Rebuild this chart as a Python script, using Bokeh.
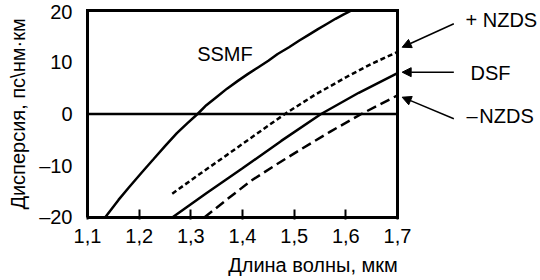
from bokeh.plotting import figure
from bokeh.models import Arrow, NormalHead, Label, FixedTicker, Range1d
from bokeh.embed import file_html
from bokeh.resources import INLINE

# ---- data ----
ssmf_lam = [1.134, 1.16, 1.18, 1.205, 1.228, 1.25, 1.273, 1.293, 1.313, 1.33, 1.35, 1.37, 1.391,
            1.41, 1.43, 1.45, 1.468, 1.49, 1.51, 1.528, 1.546, 1.563, 1.58, 1.595, 1.611]
ssmf_d = [-20.0, -16.6, -14.2, -11.3, -8.7, -6.2, -3.7, -1.8, 0.0, 1.7, 3.3, 4.9, 6.4,
          7.7, 9.0, 10.3, 11.6, 12.9, 14.2, 15.3, 16.4, 17.4, 18.4, 19.2, 20.0]

pnzds_lam = [1.264, 1.32, 1.37, 1.425, 1.482, 1.54, 1.604, 1.65, 1.70]
pnzds_d = [-15.4, -11.4, -7.9, -4.0, 0.0, 3.7, 7.3, 9.7, 12.0]

dsf_lam = [1.264, 1.33, 1.40, 1.475, 1.552, 1.625, 1.70]
dsf_d = [-20.0, -15.3, -10.5, -5.2, 0.0, 4.1, 7.9]

mnzds_lam = [1.326, 1.37, 1.4165, 1.465, 1.51, 1.57, 1.63, 1.70]
mnzds_d = [-20.0, -16.5, -12.9, -9.8, -7.0, -3.4, 0.0, 3.6]

x_ticks = [1.1, 1.2, 1.3, 1.4, 1.5, 1.6, 1.7]
x_tick_labels = ["1,1", "1,2", "1,3", "1,4", "1,5", "1,6", "1,7"]
y_ticks = [-20, -10, 0, 10, 20]
y_tick_labels = ["\u201320", "\u201310", "0", "10", "20"]

x_title = "Длина волны, мкм"
y_title = "Дисперсия, пс\\нм·км"

FONT = "Liberation Sans"

# small padding around the box so its border is not cut by the plot frame
p = figure(width=540, height=280, output_backend="svg", toolbar_location=None,
           x_range=Range1d(1.09613, 1.97672), y_range=Range1d(-20.3865, 20.3865),
           min_border_left=85, min_border_right=0, min_border_top=8, min_border_bottom=61)
p.xgrid.visible = False
p.ygrid.visible = False
p.outline_line_color = None
p.background_fill_color = "white"
p.border_fill_color = "white"

# axes
p.xaxis.ticker = FixedTicker(ticks=x_ticks)
p.xaxis.major_label_overrides = dict(zip(x_ticks, x_tick_labels))
p.yaxis.ticker = FixedTicker(ticks=y_ticks)
p.yaxis.major_label_overrides = dict(zip(y_ticks, y_tick_labels))
for ax in (p.xaxis[0], p.yaxis[0]):
    ax.axis_line_color = None
    ax.minor_tick_line_color = None
    ax.major_label_text_font = FONT
    ax.major_label_text_font_size = "20px"
    ax.major_label_text_color = "black"
    ax.axis_label_text_font = FONT
    ax.axis_label_text_font_size = "20px"
    ax.axis_label_text_font_style = "normal"
    ax.axis_label_text_color = "black"
p.xaxis.major_tick_in = 10
p.xaxis.major_tick_out = 0
p.xaxis.major_tick_line_width = 2
p.xaxis.major_tick_line_color = "black"
p.xaxis.major_label_standoff = 9
p.xaxis.axis_label = x_title
p.xaxis.axis_label_standoff = 8
p.yaxis.major_tick_in = 0
p.yaxis.major_tick_out = 0
p.yaxis.major_tick_line_color = None
p.yaxis.major_label_standoff = 13
p.yaxis.axis_label = y_title
p.yaxis.axis_label_standoff = 7

# plot box
x0, x1 = x_ticks[0], x_ticks[-1]
y0, y1 = y_ticks[0], y_ticks[-1]
p.multi_line(xs=[[x0, x0, x1, x1, x0]], ys=[[y0, y1, y1, y0, y0]],
             line_color="black", line_width=3, line_join="miter")

# zero line
p.segment(x0=[x0], y0=[0], x1=[x1], y1=[0], line_color="black", line_width=2.5)

# curves
p.line(ssmf_lam, ssmf_d, line_color="black", line_width=2.5)
p.line(pnzds_lam, pnzds_d, line_color="black", line_width=2.5, line_dash="5 3")
p.line(dsf_lam, dsf_d, line_color="black", line_width=2.5)
p.line(mnzds_lam, mnzds_d, line_color="black", line_width=2.5, line_dash="10 5")

# arrows
arrows = [((1.809, 17.43), (1.709, 12.9)),
          ((1.809, 8.08), (1.709, 8.08)),
          ((1.809, -0.93), (1.709, 3.25))]
for (xs, ys), (xe, ye) in arrows:
    p.add_layout(Arrow(x_start=xs, y_start=ys, x_end=xe, y_end=ye, line_width=1.5, line_color="black",
                       end=NormalHead(size=9, fill_color="black", line_color="black", line_width=1)))

labels = [("+ NZDS", 1.8316, 18.07), ("DSF", 1.8412, 7.92), ("\u2013\u200aNZDS", 1.8335, -0.29),
          ("SSMF", 1.3123, 11.63)]
for t, x, y in labels:
    p.add_layout(Label(x=x, y=y, text=t, text_font=FONT, text_font_size="20px",
                       text_baseline="middle", text_align="left", text_color="black"))

open("out.html", "w").write(file_html(p, INLINE))
